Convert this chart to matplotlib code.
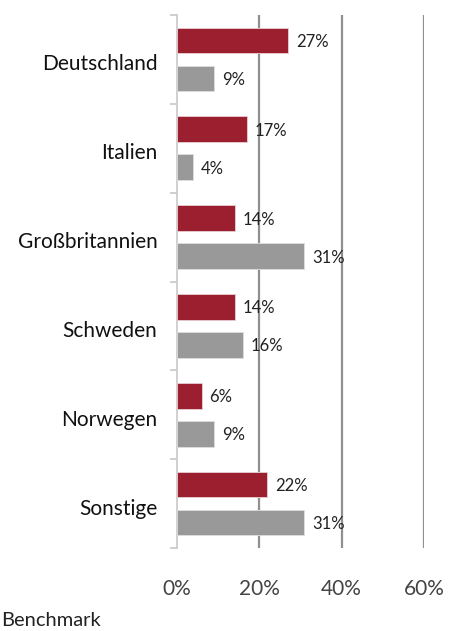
import numpy as np
import matplotlib.pyplot as plt
import matplotlib.transforms as mtransforms
from matplotlib.ticker import FixedLocator, PercentFormatter

countries = ["Deutschland", "Italien", "Großbritannien", "Schweden", "Norwegen", "Sonstige"]
fund = [27, 17, 14, 14, 6, 22]
benchmark = [9, 4, 31, 16, 9, 31]

red = "#9B1F2E"
grey = "#999999"

plt.rcParams["font.family"] = ["Lato", "DejaVu Sans"]

fig = plt.figure(figsize=(4.49, 6.31), dpi=100)
ax = fig.add_axes([0.394, 0.1315, 0.550, 0.8447])

y = np.arange(len(countries))
h = 0.29
off = 0.214
ax.barh(y - off, fund, height=h, color=red, edgecolor="#e8d0d3", linewidth=0.6, zorder=3)
ax.barh(y + off, benchmark, height=h, color=grey, edgecolor="#dddddd", linewidth=0.6, zorder=3)

for yi, v in zip(y - off, fund):
    ax.text(v + 1.9, yi, f"{v}%", va="center_baseline", ha="left", fontsize=12, color="#222222")
for yi, v in zip(y + off, benchmark):
    ax.text(v + 1.9, yi, f"{v}%", va="center_baseline", ha="left", fontsize=12, color="#222222")

# vertical grid
for gx in (20, 40, 60):
    ax.axvline(gx, color="#909090", linewidth=1.6, zorder=1)

ax.set_xlim(0, 60)
ax.set_ylim(len(countries) - 0.5, -0.5)
ax.set_xticks([0, 20, 40, 60])
ax.xaxis.set_major_formatter(PercentFormatter(decimals=0))
ax.tick_params(axis="x", length=0, pad=22, labelsize=15, labelcolor="#444444")

ax.set_yticks(y)
ax.set_yticklabels(countries, va="center_baseline")
ax.yaxis.set_minor_locator(FixedLocator(np.arange(-0.5, len(countries), 1)))
ax.tick_params(axis="y", which="major", length=0, pad=14, labelsize=15, labelcolor="#111111")
ax.tick_params(axis="y", which="minor", length=5, width=1.2, color="#c8c8c8")

# nudge country names a little below the category centre
shift = mtransforms.ScaledTranslation(0, -3 / 100, fig.dpi_scale_trans)
for lbl in ax.get_yticklabels():
    lbl.set_transform(lbl.get_transform() + shift)

for s in ("top", "right", "bottom"):
    ax.spines[s].set_visible(False)
ax.spines["left"].set_color("#c8c8c8")
ax.spines["left"].set_linewidth(1.2)

fig.text(0.002, 0.017, "Benchmark", fontsize=14.5, va="center", ha="left", color="#222222")

fig.savefig("out.png", dpi=100)
